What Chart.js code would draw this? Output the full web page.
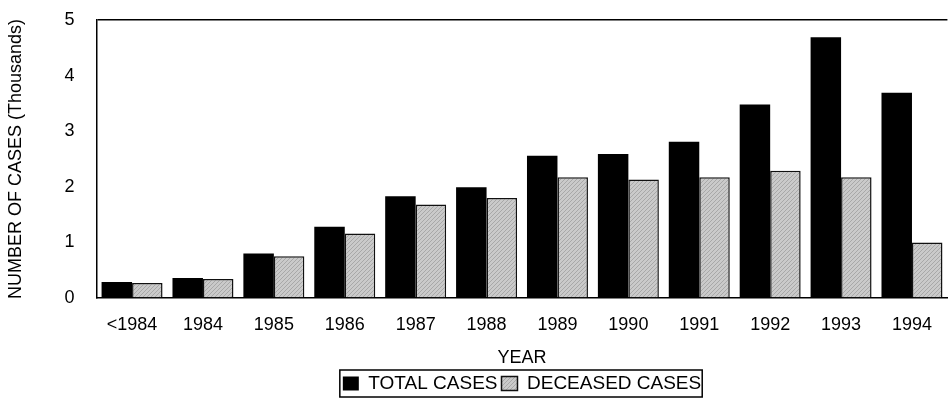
<!DOCTYPE html>
<html>
<head>
<meta charset="utf-8">
<script src="https://cdn.jsdelivr.net/npm/chart.js@4.4.1/dist/chart.umd.min.js"></script>
<style>
  html, body { margin: 0; padding: 0; background: #fff; overflow: hidden; }
</style>
</head>
<body>
<canvas id="grafico" width="948" height="403"></canvas>
<script>
const anos = ["<1984", "1984", "1985", "1986", "1987", "1988", "1989", "1990", "1991", "1992", "1993", "1994"];
const totalCasos = [0.29, 0.36, 0.80, 1.28, 1.83, 1.99, 2.56, 2.59, 2.81, 3.48, 4.69, 3.69];
const casosObito = [0.27, 0.34, 0.75, 1.16, 1.68, 1.80, 2.17, 2.13, 2.17, 2.29, 2.17, 1.00];
const ticksY = [0, 1, 2, 3, 4, 5];

const fonte = "'Liberation Sans', Arial, sans-serif";

// hachura cinza das barras de obitos
function criaHachura() {
  const c = document.createElement("canvas");
  c.width = 4;
  c.height = 4;
  const g = c.getContext("2d");
  g.fillStyle = "#cacaca";
  g.fillRect(0, 0, 4, 4);
  g.strokeStyle = "#a8a8a8";
  g.lineWidth = 1;
  g.beginPath();
  g.moveTo(0, 4);
  g.lineTo(4, 0);
  g.moveTo(-1, 1);
  g.lineTo(1, -1);
  g.moveTo(3, 5);
  g.lineTo(5, 3);
  g.stroke();
  return g.createPattern(c, "repeat");
}

// legenda centrada na area do grafico, com moldura
const bordaLegenda = {
  id: "bordaLegenda",
  afterLayout(chart) {
    const lg = chart.legend;
    const ca = chart.chartArea;
    const dx = (ca.left + ca.right) / 2 - (lg.left + lg.right) / 2;
    lg.left += dx;
    lg.right += dx;
  },
  afterDraw(chart) {
    const boxes = chart.legend.legendHitBoxes;
    if (!boxes || !boxes.length) return;
    const ctx = chart.ctx;
    let x0 = Infinity, x1 = -Infinity, y0 = Infinity, y1 = -Infinity;
    boxes.forEach(b => {
      x0 = Math.min(x0, b.left);
      x1 = Math.max(x1, b.left + b.width);
      y0 = Math.min(y0, b.top);
      y1 = Math.max(y1, b.top + b.height);
    });
    ctx.save();
    ctx.strokeStyle = "#000";
    ctx.lineWidth = 1.5;
    ctx.strokeRect(x0 - 3, y0 - 4, x1 - x0 + 4, y1 - y0 + 8);
    ctx.restore();
  }
};

const ctx = document.getElementById("grafico").getContext("2d");
new Chart(ctx, {
  type: "bar",
  data: {
    labels: anos,
    datasets: [
      {
        label: "TOTAL CASES",
        data: totalCasos,
        backgroundColor: "#000",
        borderColor: "#000",
        borderWidth: 0,
        categoryPercentage: 0.86,
        barPercentage: 1.0
      },
      {
        label: "DECEASED CASES",
        data: casosObito,
        backgroundColor: criaHachura(),
        borderColor: "#111",
        borderWidth: 1.5,
        borderSkipped: "bottom",
        categoryPercentage: 0.86,
        barPercentage: 1.0
      }
    ]
  },
  options: {
    responsive: false,
    animation: false,
    layout: { padding: { top: 20, right: 0, left: 5, bottom: 0 } },
    plugins: {
      tooltip: { enabled: false },
      legend: {
        position: "bottom",
        labels: {
          color: "#000",
          font: { family: fonte, size: 19 },
          boxWidth: 16,
          boxHeight: 14,
          padding: 4
        }
      }
    },
    scales: {
      x: {
        grid: { display: false, drawTicks: false },
        border: { color: "#000", width: 1.5 },
        ticks: { color: "#000", font: { family: fonte, size: 18 }, padding: 16, maxRotation: 0 },
        title: { display: true, text: "YEAR", color: "#000", font: { family: fonte, size: 18 }, padding: { top: 0, bottom: 1 } },
        afterFit(axis) { axis.height = 72; }
      },
      y: {
        min: 0,
        max: 5,
        afterBuildTicks(axis) { axis.ticks = ticksY.map(v => ({ value: v })); },
        afterFit(axis) { axis.paddingTop = 0; },
        grid: {
          drawTicks: false,
          color: c => (c.tick && c.tick.value === 5 ? "#000" : "rgba(0,0,0,0)"),
          lineWidth: 1.5
        },
        border: { color: "#000", width: 1.5 },
        ticks: { color: "#000", font: { family: fonte, size: 18 }, padding: 22 },
        title: { display: true, text: "NUMBER OF CASES (Thousands)", color: "#000", font: { family: fonte, size: 18 }, padding: { top: 0, bottom: 16 } }
      }
    }
  },
  plugins: [bordaLegenda]
});
</script>
</body>
</html>
